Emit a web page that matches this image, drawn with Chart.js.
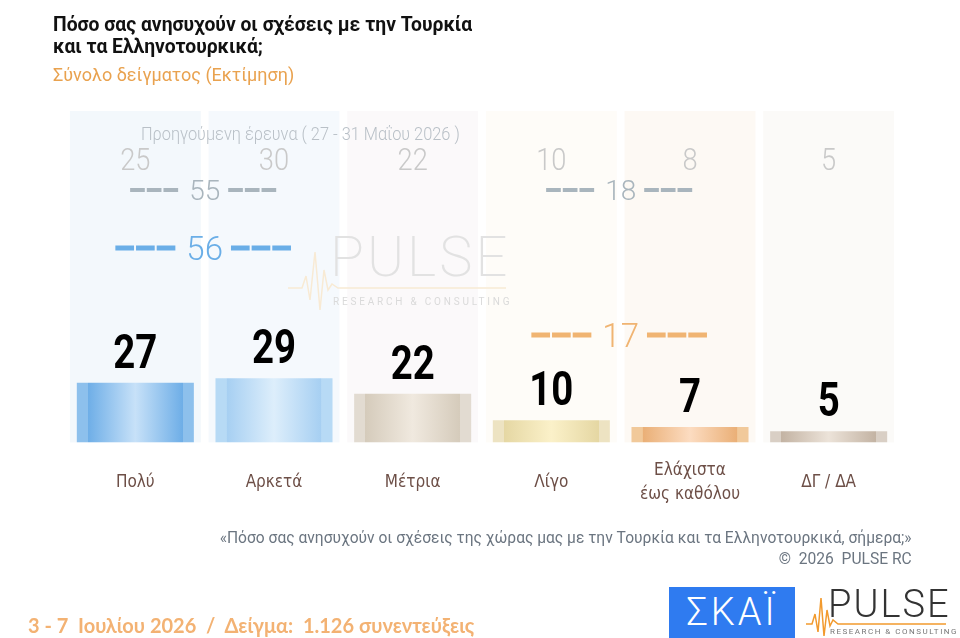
<!DOCTYPE html>
<html lang="el">
<head>
<meta charset="utf-8">
<script src="https://cdn.jsdelivr.net/npm/chart.js@4.4.1/dist/chart.umd.min.js"></script>
<style>
  html, body { margin: 0; padding: 0; background: #fff; }
  #wrap { position: relative; width: 960px; height: 638px; overflow: hidden; font-family: Roboto, sans-serif; }
  #chart { position: absolute; left: 0; top: 0; }
  .abs { position: absolute; white-space: nowrap; }
  #title { left: 53px; top: 13px; font-size: 21px; font-weight: bold; line-height: 22px; color: #111;
           transform: scaleX(0.92); transform-origin: left top; }
  #subtitle { left: 53px; top: 64px; font-size: 18px; color: #e9a24f; }
  #prevnote { left: 141px; top: 123px; font-size: 18px; color: #b9c0c7; font-weight: 300;
              transform: scaleX(0.91); transform-origin: left top; }
  #question { right: 48px; top: 527px; font-size: 17px; color: #6b7580; text-align: right; line-height: 21px;
              transform: scaleX(0.917); transform-origin: right top; }
  #dates { left: 28px; top: 613px; font-family: Lato, 'Open Sans', sans-serif; font-weight: bold; font-size: 20px; color: #f3b273; }
  #skai { left: 669px; top: 587px; width: 126px; height: 51px; background: #2f7bf0; color: #fff;
          font-size: 38px; font-weight: 300; text-align: center; line-height: 51px; letter-spacing: 3px; }
  .pulse-word { font-family: Roboto, sans-serif; font-weight: 300; }
  #wm { left: 288px; top: 226px; pointer-events: none; }
  #logo { left: 806px; top: 586px; }
</style>
</head>
<body>
<div id="wrap">
  <canvas id="chart" width="960" height="638"></canvas>

  <div id="title" class="abs">Πόσο σας ανησυχούν οι σχέσεις με την Τουρκία<br>και τα Ελληνοτουρκικά;</div>
  <div id="subtitle" class="abs">Σύνολο δείγματος (Εκτίμηση)</div>
  <div id="prevnote" class="abs">Προηγούμενη έρευνα ( 27 - 31 Μαΐου 2026 )</div>

  <div id="wm" class="abs">
    <svg width="230" height="90" style="position:absolute;left:0;top:0">
      <polyline points="0,62 14,62 18,50 22,74 27,26 32,84 36,44 40,64 44,58 50,62 218,62" fill="none" stroke="#f8ead4" stroke-width="1.5"/>
    </svg>
    <div class="abs pulse-word" style="left:42px;top:-2px;font-size:56px;font-weight:200;color:#e2e2e2;letter-spacing:3px">PULSE</div>
    <div class="abs" style="left:45px;top:70px;font-size:10px;color:#dadada;letter-spacing:2.8px">RESEARCH &amp; CONSULTING</div>
  </div>

  <div id="question" class="abs">«Πόσο σας ανησυχούν οι σχέσεις της χώρας μας με την Τουρκία και τα Ελληνοτουρκικά, σήμερα;»<br>©&nbsp; 2026&nbsp; PULSE RC</div>
  <div id="dates" class="abs">3 - 7&nbsp; Ιουλίου 2026&nbsp; /&nbsp; Δείγμα:&nbsp; 1.126 συνεντεύξεις</div>

  <div id="skai" class="abs">ΣΚΑΪ</div>
  <div id="logo" class="abs">
    <svg width="150" height="52" style="position:absolute;left:0;top:0">
      <polyline points="0,38 6,38 9,28 12,46 15,12 18,50 21,24 24,40 27,34 32,38 140,38" fill="none" stroke="#f29a2e" stroke-width="1.5"/>
    </svg>
    <div class="abs pulse-word" style="left:22px;top:-4px;font-size:38px;color:#333;letter-spacing:2px">PULSE</div>
    <div class="abs" style="left:24px;top:41px;font-size:8px;color:#777;letter-spacing:1.5px">RESEARCH &amp; CONSULTING</div>
  </div>
</div>

<script>
// κατηγορίες και τιμές (τρέχουσα / προηγούμενη έρευνα)
const categories = ['Πολύ', 'Αρκετά', 'Μέτρια', 'Λίγο', ['Ελάχιστα', 'έως καθόλου'], 'ΔΓ / ΔΑ'];
const values = [27, 29, 22, 10, 7, 5];
const prevValues = [25, 30, 22, 10, 8, 5];

// αθροίσματα: Πολύ+Αρκετά και Λίγο+Ελάχιστα
const sumGroups = [[0, 1], [3, 4]];
const sumNow = [56, 17];
const sumPrev = [55, 18];

// χρώματα μπάρας: [λωρίδα άκρης, σκούρο, ανοιχτό κέντρο]
const barColors = [
    ['#8dc0ec', '#6eaee7', '#c7e1f8'],
    ['#b7daf5', '#a6cff2', '#ddeefb'],
    ['#e2dbd1', '#d5cbbb', '#f0e9df'],
    ['#ede3c2', '#e5d7a3', '#fbf1c9'],
    ['#f1c99a', '#eaaf76', '#fcdcc1'],
    ['#d9cfc5', '#c3b3a3', '#ece3d9']
];
const panelColors = ['#f3f8fc', '#f5f9fd', '#fbf9fa', '#fefcf8', '#fdf9f4', '#fbfaf8'];

function barGradient(context) {
    const chart = context.chart;
    if (!chart.chartArea) return barColors[context.dataIndex][1];
    const i = context.dataIndex;
    const x = chart.scales.x.getPixelForValue(i);
    const w = (chart.chartArea.right - chart.chartArea.left) / categories.length * 0.844;
    const g = chart.ctx.createLinearGradient(x - w / 2, 0, x + w / 2, 0);
    const c = barColors[i];
    g.addColorStop(0, c[0]);
    g.addColorStop(0.094, c[0]);
    g.addColorStop(0.095, c[1]);
    g.addColorStop(0.5, c[2]);
    g.addColorStop(0.905, c[1]);
    g.addColorStop(0.906, c[0]);
    g.addColorStop(1, c[0]);
    return g;
}

// φόντο στηλών
const panelsPlugin = {
    id: 'panels',
    beforeDatasetsDraw(chart) {
        const { ctx, chartArea, scales } = chart;
        const step = (chartArea.right - chartArea.left) / categories.length;
        const pw = step * 0.944;
        ctx.save();
        categories.forEach((c, i) => {
            const x = scales.x.getPixelForValue(i);
            ctx.fillStyle = panelColors[i];
            ctx.fillRect(x - pw / 2, chartArea.top, pw, chartArea.bottom - chartArea.top);
        });
        ctx.restore();
    }
};

// κείμενο στενεμένο οριζόντια (σαν condensed γραμματοσειρά)
function narrowText(ctx, text, x, y, sx) {
    ctx.save();
    ctx.translate(x, y);
    ctx.scale(sx, 1);
    ctx.fillText(text, 0, 0);
    ctx.restore();
}

function drawSum(ctx, x, base, text, color, size, dashLen, lineW) {
    ctx.font = '300 ' + size + 'px Roboto, sans-serif';
    ctx.fillStyle = color;
    ctx.textAlign = 'center';
    ctx.textBaseline = 'alphabetic';
    ctx.fillText(text, x, base);
    const tw = ctx.measureText(text).width;
    const y = base - size * 0.36;
    ctx.strokeStyle = color;
    ctx.lineWidth = lineW;
    ctx.setLineDash([dashLen / 3 - 2, 2]);
    ctx.beginPath();
    ctx.moveTo(x - tw / 2 - 9 - dashLen, y);
    ctx.lineTo(x - tw / 2 - 9, y);
    ctx.moveTo(x + tw / 2 + 8, y);
    ctx.lineTo(x + tw / 2 + 8 + dashLen, y);
    ctx.stroke();
    ctx.setLineDash([]);
}

// ετικέτες τιμών, προηγούμενη έρευνα, αθροίσματα
const labelsPlugin = {
    id: 'labels',
    afterDatasetsDraw(chart) {
        const { ctx, chartArea, scales } = chart;
        ctx.save();
        ctx.textAlign = 'center';
        ctx.textBaseline = 'alphabetic';

        ctx.font = '300 31px Roboto, sans-serif';
        ctx.fillStyle = '#c9c9c9';
        prevValues.forEach((v, i) => {
            narrowText(ctx, String(v), scales.x.getPixelForValue(i), chartArea.top + 59, 0.88);
        });

        ctx.font = 'bold 48px Roboto, sans-serif';
        ctx.fillStyle = '#000';
        values.forEach((v, i) => {
            narrowText(ctx, String(v), scales.x.getPixelForValue(i), scales.y.getPixelForValue(v) - 15, 0.8);
        });

        const nowBase = [chartArea.top + 149, chartArea.top + 236];
        const nowColors = ['#6aaee7', '#f0b472'];
        sumGroups.forEach((g, k) => {
            const x = (scales.x.getPixelForValue(g[0]) + scales.x.getPixelForValue(g[1])) / 2;
            drawSum(ctx, x, chartArea.top + 89, String(sumPrev[k]), '#a9b5bd', 28, 50, 4);
            drawSum(ctx, x, nowBase[k], String(sumNow[k]), nowColors[k], 33, 62, 5);
        });
        ctx.restore();
    }
};

new Chart(document.getElementById('chart'), {
    type: 'bar',
    data: {
        labels: categories,
        datasets: [{
            data: values,
            backgroundColor: barGradient,
            borderWidth: 0,
            categoryPercentage: 1,
            barPercentage: 0.844
        }]
    },
    options: {
        responsive: false,
        animation: false,
        layout: { padding: { top: 111, left: 66, right: 62, bottom: 92 } },
        plugins: { legend: { display: false }, tooltip: { enabled: false } },
        scales: {
            x: {
                grid: { display: false, drawTicks: false },
                border: { display: false },
                ticks: {
                    color: '#6d4f47',
                    font: { family: "'DejaVu Sans Condensed', Roboto, sans-serif", size: 17, lineHeight: 1.4 },
                    padding: 28,
                    crossAlign: 'center',
                    maxRotation: 0,
                    autoSkip: false
                }
            },
            y: { display: false, min: 0, max: 150 }
        }
    },
    plugins: [panelsPlugin, labelsPlugin]
});
</script>
</body>
</html>
